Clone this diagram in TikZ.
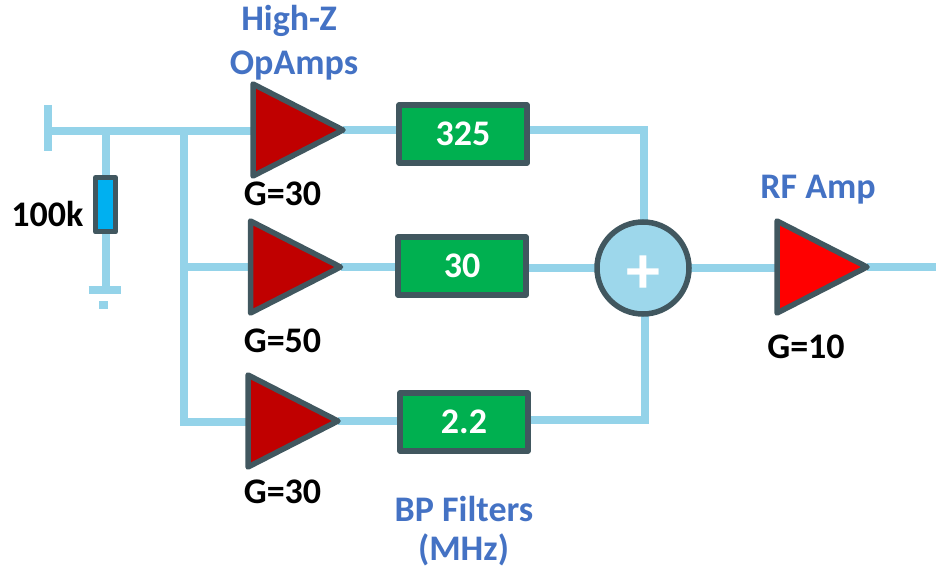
\documentclass[tikz,border=0pt]{standalone}
\usepackage{fontspec}
\setmainfont{Carlito}
\usetikzlibrary{shapes.geometric,backgrounds}
\definecolor{wirec}{HTML}{94D3E9}
\definecolor{edgec}{HTML}{41575F}
\definecolor{dred}{HTML}{C00000}
\definecolor{bred}{HTML}{FF0000}
\definecolor{boxg}{HTML}{00B050}
\definecolor{resb}{HTML}{00B0F0}
\definecolor{sumc}{HTML}{9DD7EB}
\definecolor{capb}{HTML}{4472C4}
\tikzset{
  wire/.style={draw=wirec,line width=8pt},
  amp/.style={isosceles triangle,isosceles triangle apex angle=60,isosceles triangle stretches,
    shape border rotate=0,anchor=lower side,draw=edgec,line width=5.5pt,line join=round,inner sep=0pt,outer sep=0pt,
    minimum width=92pt,minimum height=90pt},
  filt/.style={rectangle,draw=edgec,fill=boxg,line width=5.5pt,line join=round,minimum width=128pt,minimum height=58pt,inner sep=0pt,outer sep=0pt,
    text=white,font=\fontsize{36}{38}\selectfont\bfseries},
  captext/.style={text=capb,font=\fontsize{36}{38}\selectfont\bfseries,inner sep=0pt},
  labtext/.style={text=black,font=\fontsize{36}{38}\selectfont\bfseries,inner sep=0pt},
}
\begin{document}
\begin{tikzpicture}[x=1pt,y=-1pt]
\useasboundingbox (0,0) rectangle (936,569);
\node[amp,fill=dred] (a1) at (253,130) {};
\node[amp,fill=dred] (a2) at (250.5,267) {};
\node[amp,fill=dred] (a3) at (248,421) {};
\node[amp,fill=bred] (rf) at (777,267) {};
\node[filt] (f1) at (463,134) {325};
\node[filt] (f2) at (462,266) {30};
\node[filt] (f3) at (464,422) {2.2};
\node[circle,draw=edgec,fill=sumc,line width=5.5pt,minimum size=92pt,inner sep=0pt,outer sep=0pt] (sum) at (643,268) {};
\node[text=white,font=\fontsize{68}{68}\selectfont\bfseries,inner sep=0pt] (plus) at (643,275) {+};
\node[rectangle,draw=edgec,fill=resb,line width=5pt,line join=round,minimum width=20pt,minimum height=54.5pt,inner sep=0pt,outer sep=0pt] (res) at (105.5,204.75) {};
\coordinate (in) at (48,131);
\coordinate (intop) at (48,105);
\coordinate (inbot) at (48,151);
\coordinate (tap) at (105.5,131);
\coordinate (bus) at (184,131);
\coordinate (busm) at (184,267);
\coordinate (busb) at (184,422);
\coordinate (gnd) at (105.5,290);
\coordinate (gl) at (88.5,290);
\coordinate (gr) at (121,290);
\coordinate (c1) at (644,130);
\coordinate (c3) at (645,420);
\coordinate (out) at (936,267);
\begin{pgfonlayer}{background}
\draw[wire] (intop) -- (inbot);
\draw[wire] (in) -- (a1.lower side |- in);
\draw[wire] (tap) -- (res.north);
\draw[wire] (res.south) -- (gnd);
\draw[wire] (gl) -- (gr);
\fill[wirec] (99,301) rectangle (108,309);
\draw[wire] (bus) -- (busb) -- (a3.lower side |- busb);
\draw[wire] (busm) -- (a2.lower side |- busm);
\draw[wire] (a1.apex) -- (f1.west |- a1.apex);
\draw[wire] (a2.apex) -- (f2.west |- a2.apex);
\draw[wire] (a3.apex) -- (f3.west |- a3.apex);
\draw[wire] (f1.east |- c1) -- (c1) -- (sum.north -| c1);
\draw[wire] (f2.east |- sum) -- (sum.west);
\draw[wire] (f3.east |- c3) -- (c3) -- (sum.south -| c3);
\draw[wire] (sum.east) -- (rf.lower side |- sum);
\draw[wire] (rf.apex) -- (out);
\end{pgfonlayer}
\node[captext] (t1) at (289,21) {High-Z};
\node[captext] (t2) at (294,65.5) {OpAmps};
\node[labtext] (g1) at (282.5,194) {G=30};
\node[labtext] (g2) at (282.5,341) {G=50};
\node[labtext] (g3) at (282.5,492) {G=30};
\node[labtext] (g4) at (806,347) {G=10};
\node[labtext] (r) at (47.5,214) {100k};
\node[captext] (t3) at (818,190) {RF Amp};
\node[captext] (t4) at (464,509) {BP Filters};
\node[captext] (t5) at (463.5,549.5) {(MHz)};
\end{tikzpicture}
\end{document}
